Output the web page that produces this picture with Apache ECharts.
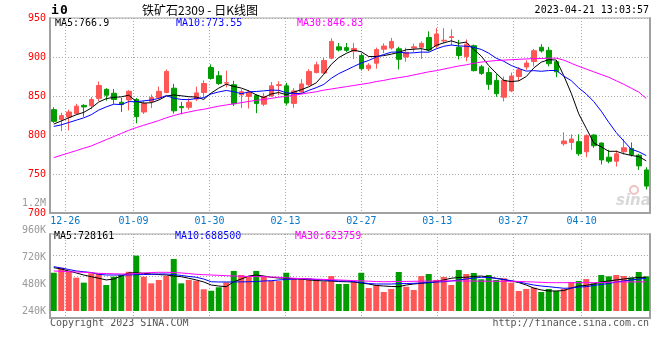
<!DOCTYPE html>
<html><head><meta charset="utf-8">
<script src="https://cdn.jsdelivr.net/npm/echarts@6/dist/echarts.min.js"></script>
<style>html,body{margin:0;padding:0;background:#fff}#c{width:660px;height:360px}</style>
</head><body><div id="c"></div>
<script>
const dates = ['12-22','12-23','12-26','12-27','12-28','12-29','12-30',
'01-03','01-04','01-05','01-06','01-09','01-10','01-11','01-12','01-13','01-16','01-17','01-18','01-19','01-20','01-30','01-31',
'02-01','02-02','02-03','02-06','02-07','02-08','02-09','02-10','02-13','02-14','02-15','02-16','02-17','02-20','02-21','02-22','02-23','02-24','02-27','02-28',
'03-01','03-02','03-03','03-06','03-07','03-08','03-09','03-10','03-13','03-14','03-15','03-16','03-17','03-20','03-21','03-22','03-23','03-24','03-27','03-28','03-29','03-30','03-31',
'04-03','04-04','04-06','04-07','04-10','04-11','04-12','04-13','04-14','04-17','04-18','04-19','04-20','04-21'];
const tickLabels = ['12-26','01-09','01-30','02-13','02-27','03-13','03-27','04-10'];

const openP = [832.5,820,823,827.5,838,837.5,847,858.5,853.5,842,
845,845.5,829.5,843,848,854.5,860,836.5,835.5,846,
854.5,886.5,876,866.5,864.5,851.5,849.5,850.5,839.5,850,
863.5,863,840.5,855,864.5,880,879.5,898.5,913,912,
907.5,902,885,892,910,911.5,910.5,900,911.5,912.5,
925,914,920.5,925,912.5,900.5,914.5,887.5,880,870,
848.5,856.5,875,887.2,894.2,912.5,908.6,894,788.8,790.5,
791.4,778.5,800,789.7,771.6,766.4,778.5,782.8,774.1,755.2];
const closeP = [817.5,825,829.5,837,836,845.5,863.5,851,845.5,839,
856,823.5,840.5,848,856,881.5,831,835,842,854,
866,872.5,866,867,840,855.5,854.5,840.5,849.5,863,
864.5,841,856.5,865.5,881.5,890,895.5,920,909,908.5,
911,885,889.5,909.5,914,920,897,906,913,917.5,
909,929.5,921.5,926,902,916.5,882.5,879,865,853,
870,875.5,883.6,892.2,908,907.8,891.4,881,792.3,794.8,
775.9,799.1,786.2,768.1,766.4,775.9,783.6,775,760.4,734.5];
const lowP = [815.5,805,806,826,823.5,833,843.5,844,840,829.5,
831.5,815,827,834.5,845.5,853.5,827.5,826.5,832.5,843.5,
848,871,864,861,837,834.5,834,828,837,849,
851,838,835,853,863,879,878.5,897,907,906.5,
897.5,882.5,882,885,905,909.5,884,894,906.5,897.5,
907,911.5,917.5,915,897,894.5,881.5,877,858,849,
843,855,869,883.6,888,905.6,888,874,786.2,781,
773.3,771.6,783.6,762.1,763.8,759.5,775,772.4,755.2,730.2];
const highP = [835.5,828.5,832.5,840,839.5,848.5,868.5,860,859,847.5,
857.5,847.5,844,852,862,884,865.5,842.5,847,862,
870,890.5,882,882.5,869.5,858.5,857.5,852,854,868,
869,867,860,871.5,884.5,894,899,924,918,918,
918,905,892,912,917.5,924.5,913,912,917,920,
933,937,937,935.5,922,922.5,916,890,886.5,878,
875,880,887,895.7,910.3,916.4,912.9,895,803.5,800.9,
800.9,800.9,800.9,790.5,781,780.2,794.8,790.5,775.9,758.6];

const ma5 = [814,818,822,826,829,834.6,842.3,846.6,848.3,848.9,
851,843,840.9,841.4,844.8,849.9,851.4,850.3,849.1,848.7,
845.6,853.9,860.1,865.1,862.3,860.2,856.6,851.5,848,852.6,
854.4,851.7,854.9,858.1,861.8,866.9,877.8,890.5,899.2,904.6,
908.8,906.7,900.6,900.7,901.8,903.6,906,909.3,910,910.7,
908.5,915,918.1,920.7,917.6,919.1,909.7,901.2,889,879.2,
869.9,868.5,869.4,874.9,885.9,893.4,896.6,896.1,876.1,853.5,
827.1,808.6,789.7,784.8,779.1,779.1,776,773.8,772.3,766.9];
const ma10 = [811,813,816,819,822,826,832,836,839.5,839,
842.8,842.7,843.8,844.9,846.9,850.5,847.2,845.6,845.3,846.8,
847.8,852.7,855.2,857.1,855.5,852.9,855.3,855.8,856.6,857.5,
857.3,854.2,853.2,853.1,857.2,860.7,864.8,872.7,878.7,883.2,
887.9,892.3,895.6,900,903.2,906.2,906.4,905,905.4,906.3,
906.1,910.5,913.7,915.4,914.2,913.8,912.4,909.7,904.9,898.4,
894.5,889.1,885.3,881.9,882.5,881.7,882.6,882.8,875.5,869.7,
860.3,852.6,842.9,830.5,816.3,803.1,792.3,781.7,778.5,773.55];
const ma30 = [771,774,777,780,783,786,790,794,798,802,
806,809.5,812.5,815.5,818.5,822,825,827.5,829.5,831.5,
833,835,837,838.5,840,841.5,843,844.5,845.5,847,
848.5,849.5,851,852.5,854,855.5,857.5,859,860.5,862,
863.5,865,866.5,868.5,870,872,873.5,875,877,879,
881,882.5,884.5,886.5,888.5,890,892,893.5,894.5,895.5,
896,896.5,897,897.5,898,898,898.5,898.5,896,892,
888,884.5,881,877.5,874,869.5,865,860,855,846.83];

const volume = [580000,625000,589000,536000,492000,575000,575000,471000,545000,560000,
589000,732000,545000,486000,516000,551000,702000,486000,516000,509000,
433000,420000,451000,495000,596000,560000,545000,596000,545000,509000,
507000,580000,531000,527000,531000,513000,502000,551000,480000,480000,
500000,580000,444000,468000,409000,436000,587000,456000,427000,551000,
569000,516000,542000,471000,604000,569000,578000,522000,560000,516000,
531000,492000,418000,436000,447000,409000,436000,418000,436000,498000,
507000,524000,486000,560000,548000,560000,551000,536000,587000,548000];
const volMa5 = [625000,613000,596000,578000,560000,545000,531000,516000,524000,551000,
578000,580000,575000,569000,564000,560000,551000,545000,531000,516000,
498000,471000,462000,456000,500000,524000,551000,560000,551000,540000,
533000,533000,527000,524000,516000,511000,507000,507000,502000,500000,
498000,489000,480000,467000,462000,458000,456000,471000,480000,486000,
493000,500000,516000,531000,538000,540000,547000,551000,542000,531000,
520000,507000,493000,471000,444000,427000,418000,418000,422000,444000,
462000,468000,480000,498000,507000,516000,524000,533000,538000,540000];
const volMa10 = [634000,622000,609000,596000,589000,582000,566000,560000,560000,560000,
560000,563000,564000,566000,569000,569000,564000,556000,547000,540000,
524000,500000,498000,498000,498000,499000,500000,502000,507000,509000,
516000,520000,524000,527000,524000,520000,516000,511000,507000,507000,
502000,493000,484000,480000,480000,480000,483000,484000,486000,489000,
493000,498000,500000,507000,516000,524000,533000,540000,538000,529000,
520000,509000,498000,484000,471000,462000,456000,449000,442000,444000,
453000,456000,467000,476000,484000,498000,507000,516000,524000,531000];
const volMa30 = [596000,593000,589000,587000,584000,580000,575000,573000,571000,569000,
569000,573000,578000,582000,584000,584000,582000,578000,573000,566000,
563000,560000,557000,554000,551000,549000,547000,546000,545000,542000,
540000,535000,531000,528000,525000,523000,521000,518000,516000,513000,
510000,508000,505000,502000,500000,501000,502000,503000,504000,505000,
506000,507000,507000,507000,507000,506000,506000,505000,505000,504000,
504000,504000,503000,500000,498000,495000,492000,492000,492000,492000,
492000,492000,492000,493000,495000,497000,498000,499000,499000,500000];

const MONO = 'DejaVu Sans Mono';
const UP = '#ff5656', DOWN = '#009c00';
const dotted = {color:'#a8a8a8', width:1, type:[1,2]};
const frameLine = {show:true, lineStyle:{color:'#a0a0a0', width:2}};
const isTick = (idx, val) => tickLabels.indexOf(val) >= 0;

const candleData = dates.map((d, i) => [openP[i], closeP[i], lowP[i], highP[i]]);
const volData = volume.map((v, i) => ({value: v, itemStyle: {color: closeP[i] >= openP[i] ? UP : DOWN}}));

const chart = echarts.init(document.getElementById('c'));
const txt = (left, top, text, fill, font) => ({type:'text', left, top, style:{text, fill, font}});
const option = {
  animation: false,
  backgroundColor: '#fff',
  grid: [
    {left:50, top:18, width:600, height:195, show:true, borderColor:'#a8a8a8', borderWidth:1},
    {left:50, top:234, width:600, height:84, show:true, borderColor:'#a8a8a8', borderWidth:1},
    {left:50, top:203, width:600, height:108}
  ],
  xAxis: [
    {type:'category', gridIndex:0, position:'top', data:dates, boundaryGap:true,
     axisLine:{show:false}, axisTick:{show:false}, axisLabel:{show:false}, splitLine:{show:false}},
    {type:'category', gridIndex:0, position:'bottom', data:dates, boundaryGap:false,
     axisLine:frameLine, axisTick:{show:false},
     axisLabel:{show:true, interval:isTick, color:'#0a78c8', fontFamily:MONO, fontSize:10, margin:3},
     splitLine:{show:true, interval:isTick, lineStyle:dotted}},
    {type:'category', gridIndex:1, position:'bottom', data:dates, boundaryGap:false,
     axisLine:frameLine, axisTick:{show:false}, axisLabel:{show:false},
     splitLine:{show:true, interval:isTick, lineStyle:dotted}},
    {type:'category', gridIndex:2, position:'bottom', data:dates, boundaryGap:true,
     axisLine:{show:false}, axisTick:{show:false}, axisLabel:{show:false}, splitLine:{show:false}}
  ],
  yAxis: [
    {type:'value', gridIndex:0, position:'left', min:700, max:950, interval:50,
     axisLine:frameLine, axisTick:{show:false},
     axisLabel:{color:'#ff0000', fontFamily:MONO, fontSize:10, margin:4},
     splitLine:{show:true, lineStyle:dotted}},
    {type:'value', gridIndex:0, position:'right', min:700, max:950, interval:50,
     axisLine:frameLine, axisTick:{show:false}, axisLabel:{show:false}, splitLine:{show:false}},
    {type:'value', gridIndex:1, position:'left', min:0, max:4, interval:1,
     axisLine:frameLine, axisTick:{show:false}, axisLabel:{show:false},
     splitLine:{show:true, lineStyle:dotted}},
    {type:'value', gridIndex:1, position:'right', min:0, max:4, interval:1,
     axisLine:frameLine, axisTick:{show:false}, axisLabel:{show:false}, splitLine:{show:false}},
    {type:'value', gridIndex:2, position:'left', min:240000, max:1200000, interval:240000,
     axisLine:{show:false}, axisTick:{show:false}, splitLine:{show:false},
     axisLabel:{color:'#999', fontFamily:MONO, fontSize:10, margin:4,
       formatter: v => v >= 1000000 ? (v/1000000).toFixed(1) + 'M' : (v/1000) + 'K'}}
  ],
  series: [
    {type:'candlestick', xAxisIndex:0, yAxisIndex:0, data:candleData, barWidth:5,
     itemStyle:{color:UP, color0:DOWN, borderColor:UP, borderColor0:DOWN, borderWidth:1}},
    {type:'line', xAxisIndex:0, yAxisIndex:0, data:ma5, symbol:'none', lineStyle:{color:'#000', width:1}},
    {type:'line', xAxisIndex:0, yAxisIndex:0, data:ma10, symbol:'none', lineStyle:{color:'#0000ff', width:1}},
    {type:'line', xAxisIndex:0, yAxisIndex:0, data:ma30, symbol:'none', lineStyle:{color:'#ff00ff', width:1}},
    {type:'bar', xAxisIndex:3, yAxisIndex:4, data:volData, barWidth:6},
    {type:'line', xAxisIndex:3, yAxisIndex:4, data:volMa5, symbol:'none', lineStyle:{color:'#000', width:1}},
    {type:'line', xAxisIndex:3, yAxisIndex:4, data:volMa10, symbol:'none', lineStyle:{color:'#0000ff', width:1}},
    {type:'line', xAxisIndex:3, yAxisIndex:4, data:volMa30, symbol:'none', lineStyle:{color:'#ff00ff', width:1}}
  ],
  graphic: [
    txt(51, 4, 'i', '#000', 'bold 13px "DejaVu Sans Mono"'),
    txt(60, 4, '0', '#000', 'bold 13px "DejaVu Sans Mono"'),
    txt(142, 4, '铁矿石2309 - 日K线图', '#000', '12px "Noto Sans CJK SC"'),
    {type:'text', right:11, top:5, style:{text:'2023-04-21 13:03:57', fill:'#000', font:'10px "DejaVu Sans Mono"'}},
    txt(55, 18, 'MA5:766.9', '#000', '10px "DejaVu Sans Mono"'),
    txt(176, 18, 'MA10:773.55', '#0000ff', '10px "DejaVu Sans Mono"'),
    txt(297, 18, 'MA30:846.83', '#ff00ff', '10px "DejaVu Sans Mono"'),
    txt(54, 231, 'MA5:728161', '#000', '10px "DejaVu Sans Mono"'),
    txt(175, 231, 'MA10:688500', '#0000ff', '10px "DejaVu Sans Mono"'),
    txt(295, 231, 'MA30:623759', '#ff00ff', '10px "DejaVu Sans Mono"'),
    txt(50, 318, 'Copyright 2023 SINA.COM', '#555', '10px "DejaVu Sans Mono"'),
    {type:'text', right:11, top:318, style:{text:'http://finance.sina.com.cn', fill:'#555', font:'10px "DejaVu Sans Mono"'}},
    {type:'circle', shape:{cx:634, cy:190, r:4}, style:{fill:'none', stroke:'#f2c0c0', lineWidth:2}},
    txt(616, 194, 'sina', '#d8d8d8', 'italic bold 15px "DejaVu Sans"')
  ]
};
chart.setOption(option);
</script></body></html>
